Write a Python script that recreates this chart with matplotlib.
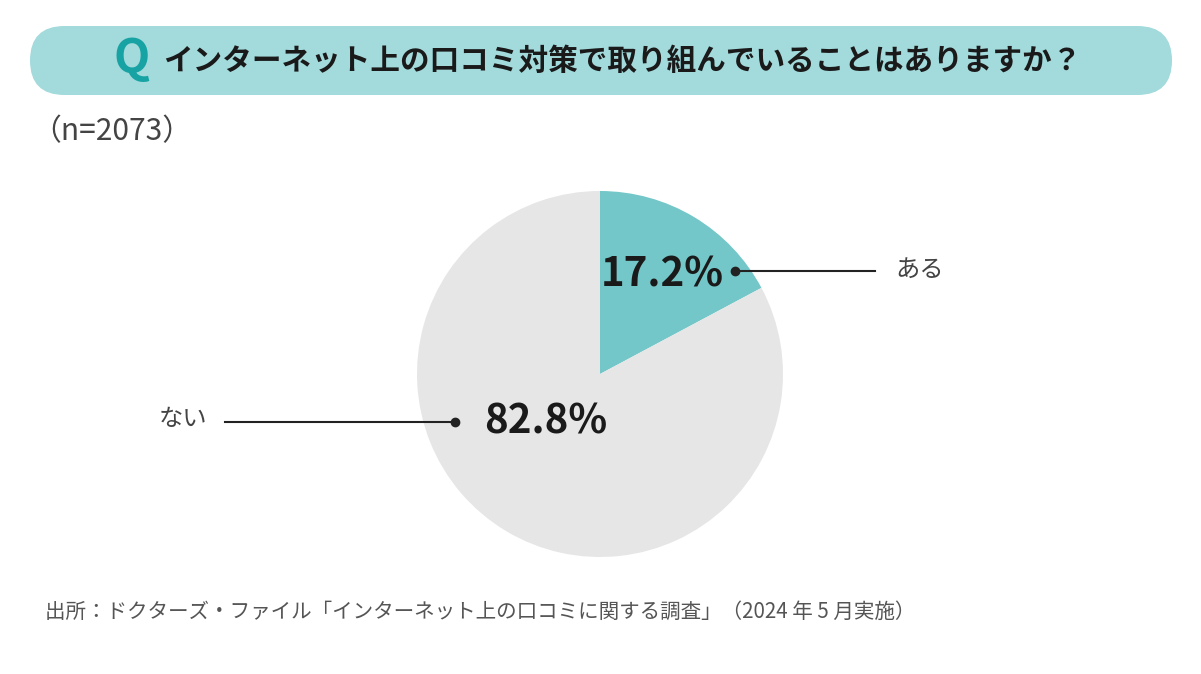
import matplotlib
matplotlib.use("Agg")
import matplotlib.pyplot as plt
from matplotlib.patches import FancyBboxPatch

plt.rcParams['font.family'] = ['Noto Sans CJK JP', 'DejaVu Sans']

# data
labels = ["ある", "ない"]
shares = [17.2, 82.8]
colors = ["#74c7c9", "#e6e6e6"]
title = "インターネット上の口コミ対策で取り組んでいることはありますか？"
sample = "（n=2073）"
source = "出所：ドクターズ・ファイル「インターネット上の口コミに関する調査」（2024 年 5 月実施）"

W, H = 1201, 674
fig = plt.figure(figsize=(W / 100, H / 100), dpi=100)
ax = fig.add_axes([0, 0, 1, 1])

# pie (y axis is flipped below, so 270 deg + counterclock = top, clockwise on screen)
cx, cy, r = 600, 374, 183
wedges, _ = ax.pie(shares, colors=colors, startangle=270, counterclock=True,
                   center=(cx, cy), radius=r, wedgeprops=dict(linewidth=0))
ax.set_xlim(0, W)
ax.set_ylim(H, 0)
ax.set_aspect("equal")
ax.axis("off")

# header band
band = FancyBboxPatch((30, 26), 1142, 69,
                      boxstyle="round,pad=0,rounding_size=34.5",
                      fc="#a3dadc", ec="none")
ax.add_patch(band)
ax.text(132, 59, "Q", color="#17a2a3", fontsize=34, fontweight="bold",
        ha="center", va="center")
ax.text(163, 61, title, color="#1a1a1a", fontsize=21.3, fontweight="bold",
        ha="left", va="center")

ax.text(31, 132, sample, color="#444444", fontsize=21.5, ha="left", va="center")

pct_font = dict(fontsize=29, fontweight="bold", color="#1a1a1a", va="center")
ax.text(662, 275, f"{shares[0]}%", ha="center", **pct_font)
ax.text(546, 422, f"{shares[1]}%", ha="center", **pct_font)

# leader lines
ax.plot([735, 875], [271, 271], color="#222222", lw=1.5)
ax.plot([735], [271], "o", color="#222222", ms=6)
ax.text(895, 270, labels[0], color="#444444", fontsize=17.5, ha="left", va="center")

ax.plot([225, 455], [422, 422], color="#222222", lw=1.5)
ax.plot([455], [422], "o", color="#222222", ms=6)
ax.text(207, 419, labels[1], color="#444444", fontsize=17.5, ha="right", va="center")

ax.text(45, 612, source, color="#555555", fontsize=14.8, ha="left", va="center")

fig.savefig("out.png", dpi=100)
